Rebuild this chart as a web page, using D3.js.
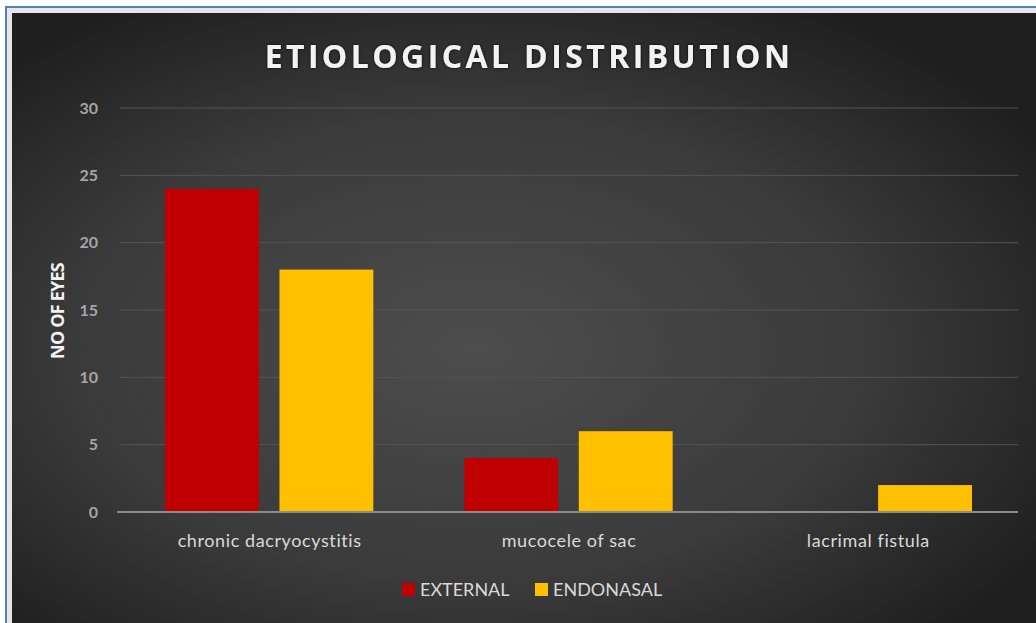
<!DOCTYPE html>
<html>
<head>
<meta charset="utf-8">
<script src="https://cdn.jsdelivr.net/npm/d3@7"></script>
<style>
  body { margin: 0; background: #fff; }
  svg { display: block; }
</style>
</head>
<body>
<div id="chart"></div>
<script>
// chart data
const categories = ['chronic dacryocystitis', 'mucocele of sac', 'lacrimal fistula'];
const seriesNames = ['EXTERNAL', 'ENDONASAL'];
const external = [24, 4, 0];
const endonasal = [18, 6, 2];
const yTicks = [0, 5, 10, 15, 20, 25, 30];
const colors = ['#c00000', '#ffc000'];

const width = 1036, height = 623;

const svg = d3.select('#chart').append('svg')
  .attr('width', width)
  .attr('height', height);

const defs = svg.append('defs');

// dark radial background like the office theme
const grad = defs.append('radialGradient')
  .attr('id', 'bg')
  .attr('cx', '45%').attr('cy', '55%').attr('r', '65%');
grad.append('stop').attr('offset', '0%').attr('stop-color', '#4d4d4d');
grad.append('stop').attr('offset', '60%').attr('stop-color', '#3a3a3a');
grad.append('stop').attr('offset', '100%').attr('stop-color', '#1f1f1f');

const glow = defs.append('filter').attr('id', 'glow')
  .attr('x', '-10%').attr('y', '-30%').attr('width', '120%').attr('height', '160%');
glow.append('feGaussianBlur').attr('in', 'SourceAlpha').attr('stdDeviation', 1.6).attr('result', 'b');
glow.append('feFlood').attr('flood-color', '#000').attr('flood-opacity', 0.9);
glow.append('feComposite').attr('in2', 'b').attr('operator', 'in').attr('result', 's');
const merge = glow.append('feMerge');
merge.append('feMergeNode').attr('in', 's');
merge.append('feMergeNode').attr('in', 'SourceGraphic');

// frame: blue line then pale gap then the chart area
svg.append('rect')
  .attr('x', 6).attr('y', 7).attr('width', width).attr('height', height)
  .attr('fill', '#e6e6e6').attr('stroke', '#4f81bd').attr('stroke-width', 2);
svg.append('rect')
  .attr('x', 12).attr('y', 13).attr('width', width - 12).attr('height', height - 13)
  .attr('fill', 'url(#bg)');

const margin = { left: 120, right: 18, top: 108, bottom: 111 };
const plotW = width - margin.left - margin.right;
const plotH = height - margin.top - margin.bottom;

const g = svg.append('g').attr('transform', `translate(${margin.left},${margin.top})`);

const x = d3.scaleBand().domain(categories).range([0, plotW]).paddingInner(0).paddingOuter(0);
const xs = d3.scaleBand().domain(seriesNames).range([45, x.bandwidth() - 46]).paddingInner(0.18);
const y = d3.scaleLinear().domain([0, 30]).range([plotH, 0]);

// gridlines
g.append('g')
  .selectAll('line')
  .data(yTicks.filter(d => d > 0))
  .join('line')
  .attr('x1', 0).attr('x2', plotW)
  .attr('y1', d => y(d)).attr('y2', d => y(d))
  .attr('stroke', '#545454').attr('stroke-width', 1);

// y tick labels
const yAxis = g.append('g')
  .call(d3.axisLeft(y).tickValues(yTicks).tickSize(0).tickPadding(22));
yAxis.select('.domain').remove();
yAxis.selectAll('text')
  .attr('fill', '#a6a6a6')
  .style('font-family', 'Lato, "Open Sans", sans-serif')
  .style('font-weight', 'bold')
  .style('font-size', '16px');

// bars
const rows = categories.map((c, i) => ({ cat: c, values: [external[i], endonasal[i]] }));
const groups = g.selectAll('.cat')
  .data(rows)
  .join('g')
  .attr('class', 'cat')
  .attr('transform', d => `translate(${x(d.cat)},0)`);
groups.selectAll('rect')
  .data(d => d.values.map((v, j) => ({ name: seriesNames[j], v, j })))
  .join('rect')
  .attr('x', d => xs(d.name))
  .attr('width', xs.bandwidth())
  .attr('y', d => y(d.v))
  .attr('height', d => plotH - y(d.v))
  .attr('fill', d => colors[d.j]);

// baseline
g.append('line')
  .attr('x1', -3).attr('x2', plotW)
  .attr('y1', plotH).attr('y2', plotH)
  .attr('stroke', '#8c8c8c').attr('stroke-width', 2);

// category labels
const xAxis = g.append('g')
  .attr('transform', `translate(0,${plotH})`)
  .call(d3.axisBottom(x).tickSize(0).tickPadding(22));
xAxis.select('.domain').remove();
xAxis.selectAll('text')
  .attr('fill', '#d9d9d9')
  .style('font-family', 'Lato, "Open Sans", sans-serif')
  .style('font-size', '18px')
  .style('letter-spacing', '0.6px');

// title
svg.append('text')
  .attr('x', 529).attr('y', 68)
  .attr('text-anchor', 'middle')
  .attr('fill', '#f2f2f2')
  .attr('filter', 'url(#glow)')
  .style('font-family', '"Open Sans", Lato, sans-serif')
  .style('font-weight', 'bold')
  .style('font-size', '32px')
  .style('letter-spacing', '3.4px')
  .text('ETIOLOGICAL  DISTRIBUTION');

// y axis title
svg.append('text')
  .attr('transform', 'translate(64,311) rotate(-90)')
  .attr('text-anchor', 'middle')
  .attr('fill', '#f2f2f2')
  .style('font-family', '"Open Sans", Lato, sans-serif')
  .style('font-weight', 'bold')
  .style('font-size', '18px')
  .style('letter-spacing', '-0.8px')
  .text('NO OF EYES');

// legend
const legendX = [402, 535];
const legend = svg.append('g').attr('transform', 'translate(0,590)');
const li = legend.selectAll('g')
  .data(seriesNames)
  .join('g')
  .attr('transform', (d, i) => `translate(${legendX[i]},0)`);
li.append('rect')
  .attr('x', 0).attr('y', -7).attr('width', 13).attr('height', 13)
  .attr('fill', (d, i) => colors[i]);
li.append('text')
  .attr('x', 18).attr('y', 6)
  .attr('fill', '#d9d9d9')
  .style('font-family', 'Lato, "Open Sans", sans-serif')
  .style('font-size', '18px')
  .text(d => d);
</script>
</body>
</html>
